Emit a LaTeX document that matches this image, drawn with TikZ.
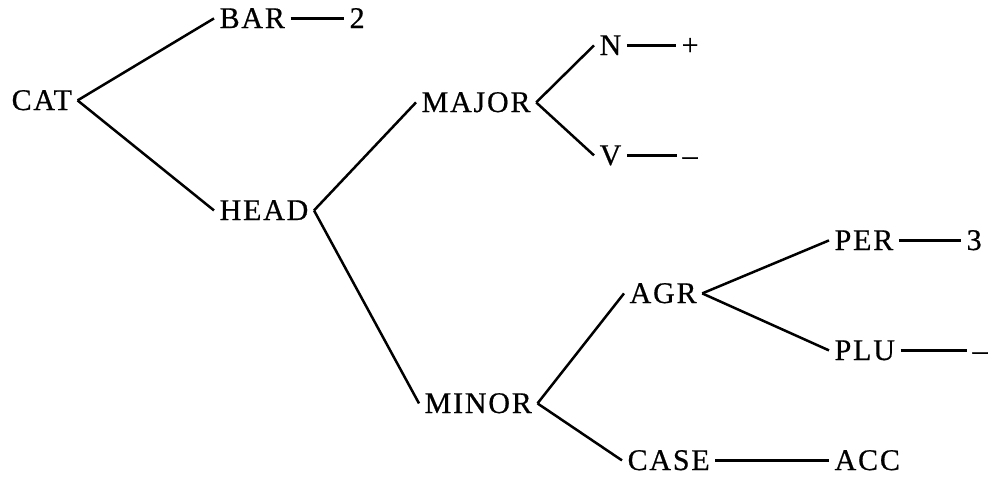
\documentclass[tikz,border=0pt]{standalone}
\usepackage{fontspec}
\setmainfont[LetterSpace=6,FakeBold=0.6]{Liberation Serif}
\usepackage{tikz}

\begin{document}
\begin{tikzpicture}[x=0.5pt, y=-0.5pt, line width=1.25pt,
		feat node/.style={anchor=base west, inner xsep=2.2pt, inner ysep=0pt,
			text height=9.6pt, text depth=0pt, font=\fontsize{15}{17}\selectfont}]
		\useasboundingbox (0,0) rectangle (996,478);
		
		\node[feat node] (CAT) at (6,110) {CAT};
		\node[feat node] (BAR) at (214,28) {BAR};
		\node[feat node] (two) at (344,28) {2};
		\node[feat node] (HEAD) at (214,220) {HEAD};
		\node[feat node] (MAJOR) at (416,112) {MAJOR};
		\node[feat node] (N) at (594,55) {N};
		\node[feat node] (plus) at (676,55) {+};
		\node[feat node] (V) at (594,165) {V};
		\node[feat node] (minusV) at (677,165) {--};
		\node[feat node] (MINOR) at (419,413) {MINOR};
		\node[feat node] (AGR) at (624,303) {AGR};
		\node[feat node] (PER) at (829,250) {PER};
		\node[feat node] (three) at (961,250) {3};
		\node[feat node] (PLU) at (829,360) {PLU};
		\node[feat node] (minusPLU) at (967,360) {--};
		\node[feat node] (CASE) at (622,470) {CASE};
		\node[feat node] (ACC) at (829,470) {ACC};
		
		\path
		(CAT.east) edge (BAR.west)
		(CAT.east) edge (HEAD.west)
		(BAR.east) edge (two.west)
		(HEAD.east) edge (MAJOR.west)
		(HEAD.east) edge (MINOR.west)
		(MAJOR.east) edge (N.west)
		(MAJOR.east) edge (V.west)
		(N.east) edge (plus.west)
		(V.east) edge (minusV.west)
		(MINOR.east) edge (AGR.west)
		(MINOR.east) edge (CASE.west)
		(AGR.east) edge (PER.west)
		(AGR.east) edge (PLU.west)
		(PER.east) edge (three.west)
		(PLU.east) edge (minusPLU.west)
		(CASE.east) edge (ACC.west);
		\end{tikzpicture}
\end{document}
